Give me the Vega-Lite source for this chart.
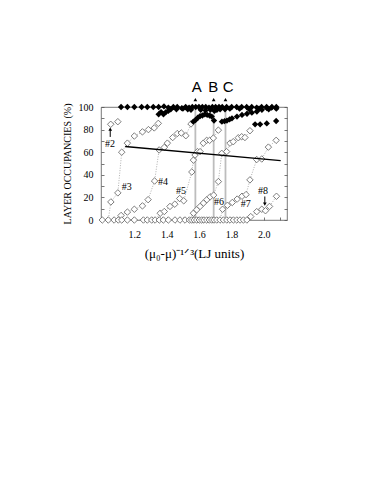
{
  "$schema": "https://vega.github.io/schema/vega-lite/v6.json",
  "width": 186,
  "height": 113,
  "autosize": {"type": "none"},
  "padding": {"left": 101, "top": 107, "right": 95, "bottom": 274},
  "background": "white",
  "config": {
    "view": {"stroke": "#555", "strokeWidth": 0.8},
    "font": "Liberation Serif",
    "axis": {"grid": false, "domain": false, "labelOverlap": false, "labelFont": "Liberation Serif", "titleFont": "Liberation Serif", "labelColor": "black", "titleColor": "black", "tickColor": "#555", "tickWidth": 0.8, "titleFontWeight": "normal"}
  },
  "datasets": {
    "open": [
      {"s": "2", "x": 1.054, "y": 84.7}, {"s": "2", "x": 1.098, "y": 87},
      {"s": "3", "x": 1.002, "y": 0}, {"s": "3", "x": 1.039, "y": 0}, {"s": "3", "x": 1.055, "y": 16}, {"s": "3", "x": 1.098, "y": 24}, {"s": "3", "x": 1.122, "y": 60}, {"s": "3", "x": 1.157, "y": 68}, {"s": "3", "x": 1.2, "y": 74.3}, {"s": "3", "x": 1.25, "y": 78}, {"s": "3", "x": 1.287, "y": 80}, {"s": "3", "x": 1.323, "y": 81.5}, {"s": "3", "x": 1.348, "y": 85.5},
      {"s": "4", "x": 1.075, "y": 0}, {"s": "4", "x": 1.101, "y": 0}, {"s": "4", "x": 1.118, "y": 4}, {"s": "4", "x": 1.157, "y": 7}, {"s": "4", "x": 1.2, "y": 9.5}, {"s": "4", "x": 1.25, "y": 12.5}, {"s": "4", "x": 1.285, "y": 18}, {"s": "4", "x": 1.325, "y": 34.5}, {"s": "4", "x": 1.353, "y": 62}, {"s": "4", "x": 1.385, "y": 64.3}, {"s": "4", "x": 1.404, "y": 68}, {"s": "4", "x": 1.437, "y": 73}, {"s": "4", "x": 1.465, "y": 76.5}, {"s": "4", "x": 1.49, "y": 77}, {"s": "4", "x": 1.518, "y": 74.6}, {"s": "4", "x": 1.55, "y": 85},
      {"s": "5", "x": 1.122, "y": 0}, {"s": "5", "x": 1.157, "y": 0}, {"s": "5", "x": 1.2, "y": 0}, {"s": "5", "x": 1.256, "y": 0}, {"s": "5", "x": 1.28, "y": 0}, {"s": "5", "x": 1.307, "y": 0}, {"s": "5", "x": 1.328, "y": 0}, {"s": "5", "x": 1.36, "y": 6}, {"s": "5", "x": 1.385, "y": 7.5}, {"s": "5", "x": 1.42, "y": 12}, {"s": "5", "x": 1.45, "y": 14}, {"s": "5", "x": 1.48, "y": 19}, {"s": "5", "x": 1.505, "y": 17}, {"s": "5", "x": 1.555, "y": 42.5}, {"s": "5", "x": 1.565, "y": 53}, {"s": "5", "x": 1.575, "y": 57.5}, {"s": "5", "x": 1.59, "y": 60.5}, {"s": "5", "x": 1.606, "y": 60.5}, {"s": "5", "x": 1.626, "y": 68}, {"s": "5", "x": 1.647, "y": 70.5}, {"s": "5", "x": 1.665, "y": 70.5}, {"s": "5", "x": 1.688, "y": 72.5}, {"s": "5", "x": 1.719, "y": 79.5},
      {"s": "6", "x": 1.354, "y": 0}, {"s": "6", "x": 1.379, "y": 0}, {"s": "6", "x": 1.41, "y": 0}, {"s": "6", "x": 1.451, "y": 0}, {"s": "6", "x": 1.482, "y": 0}, {"s": "6", "x": 1.513, "y": 0}, {"s": "6", "x": 1.54, "y": 0}, {"s": "6", "x": 1.565, "y": 6}, {"s": "6", "x": 1.585, "y": 9}, {"s": "6", "x": 1.606, "y": 12}, {"s": "6", "x": 1.627, "y": 15}, {"s": "6", "x": 1.648, "y": 18}, {"s": "6", "x": 1.668, "y": 20.5}, {"s": "6", "x": 1.69, "y": 22}, {"s": "6", "x": 1.719, "y": 34}, {"s": "6", "x": 1.74, "y": 59}, {"s": "6", "x": 1.77, "y": 60.5}, {"s": "6", "x": 1.791, "y": 68}, {"s": "6", "x": 1.811, "y": 69.3}, {"s": "6", "x": 1.842, "y": 72.8}, {"s": "6", "x": 1.863, "y": 73.7}, {"s": "6", "x": 1.883, "y": 73}, {"s": "6", "x": 1.914, "y": 79},
      {"s": "7", "x": 1.554, "y": 0}, {"s": "7", "x": 1.569, "y": 0}, {"s": "7", "x": 1.585, "y": 0}, {"s": "7", "x": 1.601, "y": 0}, {"s": "7", "x": 1.616, "y": 0}, {"s": "7", "x": 1.63, "y": 0}, {"s": "7", "x": 1.647, "y": 0}, {"s": "7", "x": 1.663, "y": 0}, {"s": "7", "x": 1.678, "y": 0}, {"s": "7", "x": 1.692, "y": 0}, {"s": "7", "x": 1.709, "y": 0}, {"s": "7", "x": 1.729, "y": 0}, {"s": "7", "x": 1.745, "y": 9.5}, {"s": "7", "x": 1.775, "y": 13}, {"s": "7", "x": 1.805, "y": 15.5}, {"s": "7", "x": 1.835, "y": 18.5}, {"s": "7", "x": 1.865, "y": 21}, {"s": "7", "x": 1.89, "y": 22.5}, {"s": "7", "x": 1.914, "y": 35.5}, {"s": "7", "x": 1.956, "y": 53.5}, {"s": "7", "x": 1.987, "y": 54}, {"s": "7", "x": 2.028, "y": 64.5}, {"s": "7", "x": 2.076, "y": 70.5},
      {"s": "8", "x": 1.75, "y": 0}, {"s": "8", "x": 1.771, "y": 0}, {"s": "8", "x": 1.791, "y": 0}, {"s": "8", "x": 1.812, "y": 0}, {"s": "8", "x": 1.833, "y": 0}, {"s": "8", "x": 1.853, "y": 0}, {"s": "8", "x": 1.874, "y": 0}, {"s": "8", "x": 1.895, "y": 0}, {"s": "8", "x": 1.919, "y": 3}, {"s": "8", "x": 1.956, "y": 7.4}, {"s": "8", "x": 1.987, "y": 9.5}, {"s": "8", "x": 2.01, "y": 8.2}, {"s": "8", "x": 2.035, "y": 12}, {"s": "8", "x": 2.078, "y": 21}
    ],
    "filled": [
      {"x": 1.118, "y": 100}, {"x": 1.157, "y": 100}, {"x": 1.2, "y": 100}, {"x": 1.245, "y": 100}, {"x": 1.28, "y": 100}, {"x": 1.317, "y": 100}, {"x": 1.35, "y": 100}, {"x": 1.383, "y": 100.5}, {"x": 1.41, "y": 99.5}, {"x": 1.441, "y": 100}, {"x": 1.465, "y": 100}, {"x": 1.493, "y": 99}, {"x": 1.517, "y": 100}, {"x": 1.538, "y": 99.5}, {"x": 1.558, "y": 100}, {"x": 1.579, "y": 100}, {"x": 1.599, "y": 100}, {"x": 1.62, "y": 100}, {"x": 1.641, "y": 100}, {"x": 1.661, "y": 99.5}, {"x": 1.682, "y": 100}, {"x": 1.702, "y": 100}, {"x": 1.723, "y": 100}, {"x": 1.743, "y": 100}, {"x": 1.77, "y": 100}, {"x": 1.801, "y": 100}, {"x": 1.832, "y": 100}, {"x": 1.863, "y": 100}, {"x": 1.894, "y": 100}, {"x": 1.925, "y": 100}, {"x": 1.956, "y": 99.5}, {"x": 1.986, "y": 100}, {"x": 2.017, "y": 100}, {"x": 2.048, "y": 99.5}, {"x": 2.077, "y": 100},
      {"x": 1.46, "y": 98}, {"x": 1.5, "y": 98.5}, {"x": 1.53, "y": 98}, {"x": 1.55, "y": 97.5}, {"x": 1.61, "y": 97.5}, {"x": 1.64, "y": 97}, {"x": 1.67, "y": 97.5}, {"x": 1.695, "y": 96.5}, {"x": 1.71, "y": 97.5}, {"x": 1.73, "y": 98}, {"x": 1.76, "y": 98}, {"x": 1.79, "y": 98.5}, {"x": 1.85, "y": 98.5}, {"x": 1.91, "y": 98}, {"x": 1.97, "y": 98.5}, {"x": 2.03, "y": 98}, {"x": 2.077, "y": 98.5},
      {"x": 1.35, "y": 93.5}, {"x": 1.365, "y": 95.5}, {"x": 1.38, "y": 93.5}, {"x": 1.395, "y": 95.5}, {"x": 1.41, "y": 96.5}, {"x": 1.425, "y": 98},
      {"x": 1.564, "y": 87}, {"x": 1.578, "y": 88.5}, {"x": 1.592, "y": 90.5}, {"x": 1.606, "y": 92}, {"x": 1.62, "y": 92.5}, {"x": 1.635, "y": 93.5}, {"x": 1.65, "y": 93}, {"x": 1.665, "y": 92.5}, {"x": 1.678, "y": 91.5}, {"x": 1.692, "y": 88},
      {"x": 1.741, "y": 87}, {"x": 1.757, "y": 87.5}, {"x": 1.772, "y": 88}, {"x": 1.788, "y": 89}, {"x": 1.803, "y": 90}, {"x": 1.834, "y": 91.5}, {"x": 1.865, "y": 93}, {"x": 1.896, "y": 94}, {"x": 1.926, "y": 95}, {"x": 1.957, "y": 96}, {"x": 1.988, "y": 97.5}, {"x": 2.019, "y": 99}, {"x": 2.05, "y": 100},
      {"x": 1.946, "y": 84.7}, {"x": 1.977, "y": 84.7}, {"x": 2.018, "y": 85.5}, {"x": 2.076, "y": 87.6}
    ],
    "vlines": [{"k": "A", "x": 1.577}, {"k": "B", "x": 1.69}, {"k": "C", "x": 1.763}],
    "letters": [{"t": "A", "x": 1.585, "y": 113}, {"t": "B", "x": 1.688, "y": 113}, {"t": "C", "x": 1.78, "y": 113}],
    "trend": [{"x": 1.143, "y": 65}, {"x": 2.104, "y": 52.5}],
    "tags": [
      {"t": "#2", "x": 1.05, "y": 67.3}, {"t": "#3", "x": 1.153, "y": 29.2}, {"t": "#4", "x": 1.377, "y": 33.6}, {"t": "#5", "x": 1.488, "y": 25.7},
      {"t": "#6", "x": 1.723, "y": 16.2}, {"t": "#7", "x": 1.888, "y": 13.9}, {"t": "#8", "x": 1.995, "y": 25.7}
    ],
    "arrows": [{"a": "2", "x": 1.051, "y1": 73.5, "y2": 80}, {"a": "8", "x": 2.006, "y1": 20.8, "y2": 14.5}],
    "heads": [{"shape": "triangle-up", "x": 1.051, "y": 80.5}, {"shape": "triangle-down", "x": 2.006, "y": 14}]
  },
  "layer": [
    {
      "data": {"name": "vlines"},
      "mark": {"type": "rule", "color": "#bdbdbd", "strokeWidth": 1.8},
      "encoding": {
        "x": {"field": "x", "type": "quantitative", "scale": {"domain": [0.994, 2.143], "nice": false, "zero": false},
          "axis": {"values": [1.0, 1.1, 1.2, 1.3, 1.4, 1.5, 1.6, 1.7, 1.8, 1.9, 2.0, 2.1], "labelOverlap": false, "labelExpr": "(datum.value > 1.15 && datum.value < 2.05 && round(datum.value * 10) % 2 == 0) ? format(datum.value, '.1f') : ''", "tickSize": -3, "labelPadding": 12, "labelFontSize": 10, "title": "(μ₀-μ)⁻¹ᐟ³(LJ units)", "titleFontSize": 13, "titlePadding": 8}},
        "y": {"datum": 0, "type": "quantitative", "scale": {"domain": [0, 100], "nice": false},
          "axis": {"values": [0, 10, 20, 30, 40, 50, 60, 70, 80, 90, 100], "labelOverlap": false, "labelExpr": "datum.value % 20 == 0 ? datum.label : ''", "tickSize": -3, "labelPadding": 11, "labelFontSize": 10, "title": "LAYER OCCUPANCIES (%)", "titleFontSize": 10, "titlePadding": 6}},
        "y2": {"datum": 100}
      }
    },
    {
      "data": {"name": "vlines"},
      "mark": {"type": "point", "opacity": 0},
      "encoding": {
        "x": {"field": "x", "type": "quantitative", "axis": null},
        "y": {"datum": 50, "type": "quantitative", "axis": {"orient": "right", "values": [0, 10, 20, 30, 40, 50, 60, 70, 80, 90, 100], "labels": false, "title": null, "tickSize": -3}}
      }
    },
    {
      "data": {"name": "open"},
      "mark": {"type": "line", "color": "#9a9a9a", "strokeWidth": 0.8, "strokeDash": [1, 1.5]},
      "encoding": {
        "x": {"field": "x", "type": "quantitative", "axis": null},
        "y": {"field": "y", "type": "quantitative", "axis": null},
        "detail": {"field": "s"}
      }
    },
    {
      "data": {"name": "open"},
      "mark": {"type": "point", "shape": "diamond", "size": 42, "filled": true, "fill": "white", "stroke": "#6e6e6e", "strokeWidth": 0.9, "opacity": 1},
      "encoding": {
        "x": {"field": "x", "type": "quantitative", "axis": null},
        "y": {"field": "y", "type": "quantitative", "axis": null}
      }
    },
    {
      "data": {"name": "filled"},
      "mark": {"type": "point", "shape": "diamond", "size": 40, "filled": true, "color": "black", "opacity": 1},
      "encoding": {
        "x": {"field": "x", "type": "quantitative", "axis": null},
        "y": {"field": "y", "type": "quantitative", "axis": null}
      }
    },
    {
      "data": {"name": "trend"},
      "mark": {"type": "line", "color": "black", "strokeWidth": 1.4},
      "encoding": {
        "x": {"field": "x", "type": "quantitative", "axis": null},
        "y": {"field": "y", "type": "quantitative", "axis": null}
      }
    },
    {
      "data": {"name": "vlines"},
      "mark": {"type": "point", "shape": "triangle-up", "size": 14, "filled": true, "color": "black", "opacity": 1},
      "encoding": {
        "x": {"field": "x", "type": "quantitative", "axis": null},
        "y": {"datum": 106.5, "type": "quantitative", "axis": null}
      }
    },
    {
      "data": {"name": "letters"},
      "mark": {"type": "text", "font": "Liberation Sans", "fontSize": 15, "baseline": "alphabetic", "align": "center", "color": "black"},
      "encoding": {
        "x": {"field": "x", "type": "quantitative", "axis": null},
        "y": {"field": "y", "type": "quantitative", "axis": null},
        "text": {"field": "t"}
      }
    },
    {
      "data": {"name": "tags"},
      "mark": {"type": "text", "font": "Liberation Serif", "fontSize": 10, "baseline": "middle", "align": "center", "color": "black"},
      "encoding": {
        "x": {"field": "x", "type": "quantitative", "axis": null},
        "y": {"field": "y", "type": "quantitative", "axis": null},
        "text": {"field": "t"}
      }
    },
    {
      "data": {"name": "arrows"},
      "mark": {"type": "rule", "color": "black", "strokeWidth": 1},
      "encoding": {
        "x": {"field": "x", "type": "quantitative", "axis": null},
        "y": {"field": "y1", "type": "quantitative", "axis": null},
        "y2": {"field": "y2"}
      }
    },
    {
      "data": {"name": "heads"},
      "mark": {"type": "point", "size": 14, "filled": true, "color": "black", "opacity": 1},
      "encoding": {
        "x": {"field": "x", "type": "quantitative", "axis": null},
        "y": {"field": "y", "type": "quantitative", "axis": null},
        "shape": {"field": "shape", "type": "nominal", "scale": null, "legend": null}
      }
    }
  ],
  "resolve": {"axis": {"x": "independent", "y": "independent"}}
}
